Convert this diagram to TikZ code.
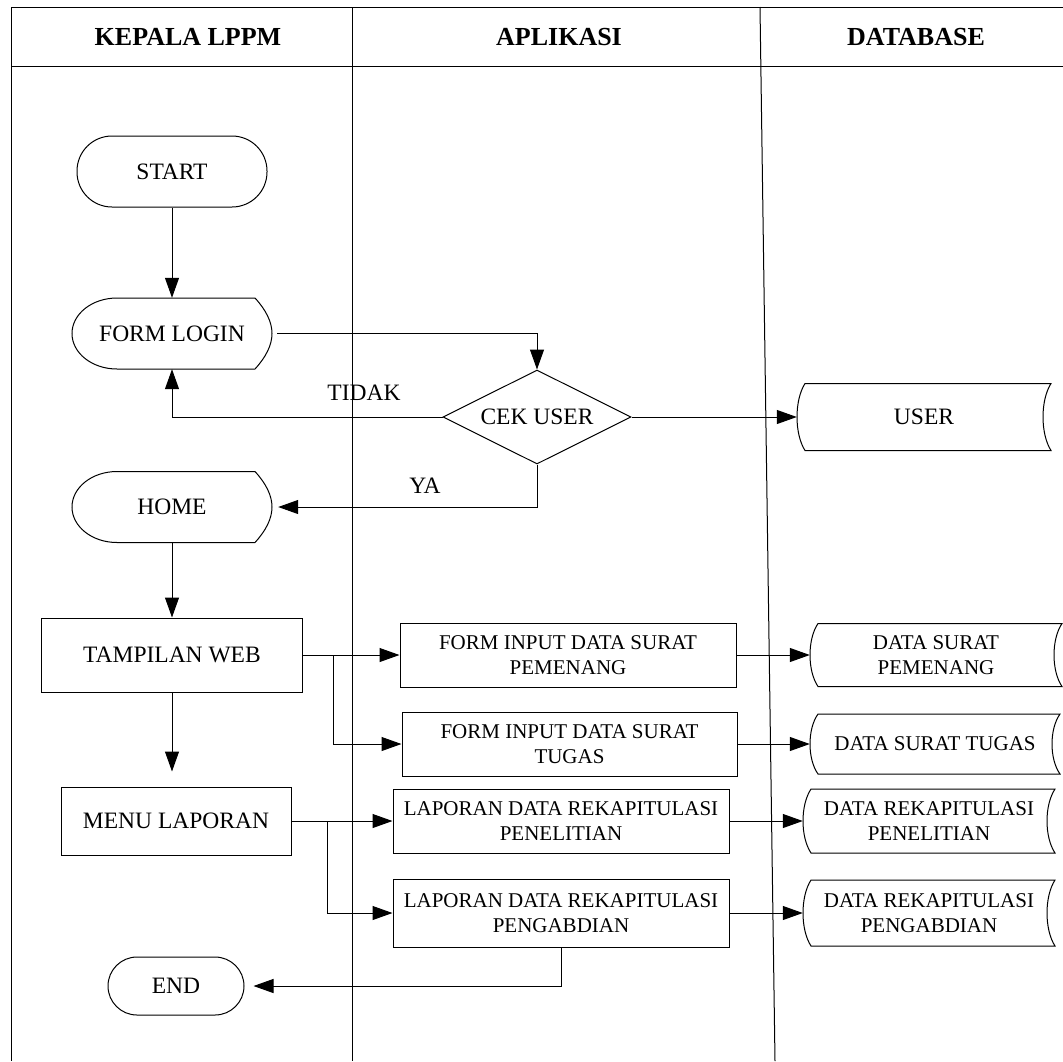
\documentclass[tikz,border=0pt]{standalone}
\usepackage{fontspec}
\setmainfont{Liberation Serif}
\usetikzlibrary{arrows.meta,shapes.geometric,calc}
\tikzset{
  ln/.style={line width=1pt, draw=black},
  arr/.style={line width=1pt, draw=black, -{Triangle[length=20pt,width=14pt]}},
  big/.style={font=\fontsize{23.5}{28}\selectfont, align=center},
  small/.style={font=\fontsize{21}{25}\selectfont, align=center},
  hdr/.style={font=\fontsize{26}{30}\selectfont\bfseries},
  procbox/.style={ln, rectangle, inner sep=0pt},
  lbl/.style={font=\fontsize{23.5}{28}\selectfont, inner sep=0pt}
}
% stored-data symbol: name, cx, cy, width, height, text
\newcommand\storenode[6]{%
  \node[small, inner sep=0pt, minimum width=#4pt, minimum height=#5pt] (#1) at (#2,#3) {#6};
  \draw[ln, shift={(#1.center)}]
    ({-#4/2+8},{-#5/2}) .. controls ({-#4/2-2.67},{-#5/2+#5/4}) and ({-#4/2-2.67},{#5/2-#5/4}) .. ({-#4/2+8},{#5/2})
    -- ({#4/2},{#5/2})
    .. controls ({#4/2-10.67},{#5/2-#5/4}) and ({#4/2-10.67},{-#5/2+#5/4}) .. ({#4/2},{-#5/2})
    -- cycle;
}
% display symbol: name, cx, cy, text
\newcommand\dispnode[4]{%
  \node[big, inner sep=0pt, minimum width=200pt, minimum height=71pt] (#1) at (#2,#3) {#4};
  \draw[ln, shift={(#1.center)}]
    (-55,-35.5) .. controls (-79.9,-35.5) and (-100,-19.6) .. (-100,0)
    .. controls (-100,19.6) and (-79.9,35.5) .. (-55,35.5)
    -- (83,35.5) .. controls (94,23.5) and (100,11.5) .. (100,0)
    .. controls (100,-11.5) and (94,-23.5) .. (83,-35.5) -- cycle;
}
\begin{document}
\begin{tikzpicture}[x=1pt,y=-1pt]
\useasboundingbox (0,0) rectangle (1063,1061);

% swimlane frame
\coordinate (tl) at (11,7);
\coordinate (tr) at (1063,7);
\coordinate (hl) at (11,66);
\coordinate (hr) at (1063,66);
\coordinate (bl) at (11,1061);
\coordinate (s1t) at (352,7);
\coordinate (s1b) at (352,1061);
\coordinate (s2t) at (760,7);
\coordinate (s2b) at (775,1061);
\draw[ln] (tl) -- (tr);
\draw[ln] (hl) -- (hr);
\draw[ln] (tl) -- (bl);
\draw[ln] (s1t) -- (s1b);
\draw[ln] (s2t) -- (s2b);

\node[hdr] (h1) at (188,37) {KEPALA LPPM};
\node[hdr] (h2) at (559,37) {APLIKASI};
\node[hdr] (h3) at (916,37) {DATABASE};

% KEPALA LPPM lane
\node[ln, big, rounded corners=35pt, minimum width=190pt, minimum height=71pt, inner sep=0pt] (start) at (172,171.5) {START};
\dispnode{formlogin}{172}{333.5}{FORM LOGIN}
\dispnode{home}{172}{507}{HOME}
\node[procbox, big, minimum width=261pt, minimum height=74pt] (tampil) at (172,655) {TAMPILAN WEB};
\node[procbox, big, minimum width=230pt, minimum height=68pt] (menu) at (176,821) {MENU LAPORAN};
\node[ln, big, rounded corners=29pt, minimum width=136pt, minimum height=58pt, inner sep=0pt] (end) at (176,986) {END};

% APLIKASI lane
\node[ln, diamond, aspect=2, minimum width=188pt, minimum height=94pt, inner sep=0pt, big] (cek) at (537,417) {CEK USER};
\node[procbox, small, minimum width=336pt, minimum height=64pt] (fpem) at (568,655) {FORM INPUT DATA SURAT\\PEMENANG};
\node[procbox, small, minimum width=335pt, minimum height=64pt] (ftug) at (569.5,744) {FORM INPUT DATA SURAT\\TUGAS};
\node[procbox, small, minimum width=336pt, minimum height=64pt] (lpen) at (561,821) {LAPORAN DATA REKAPITULASI\\PENELITIAN};
\node[procbox, small, minimum width=336pt, minimum height=68pt] (lpeng) at (561,913) {LAPORAN DATA REKAPITULASI\\PENGABDIAN};

% DATABASE lane
\storenode{user}{924}{417}{254}{67}{\fontsize{23.5}{28}\selectfont USER}
\storenode{dpem}{936}{655}{252}{63}{DATA SURAT\\PEMENANG}
\storenode{dtug}{935}{744}{250}{60}{DATA SURAT TUGAS}
\storenode{dpen}{929}{821}{252}{64}{DATA REKAPITULASI\\PENELITIAN}
\storenode{dpeng}{929}{913}{252}{66}{DATA REKAPITULASI\\PENGABDIAN}

% connectors
\draw[arr] (start.south) -- (formlogin.north);
\draw[arr, shorten <=5pt] (formlogin.east) -| (cek.north);
\draw[arr] (cek.west) -| (formlogin.south);
\draw[arr, shorten >=6pt] (cek.south) |- (home.east);
\draw[arr] (cek.east) -- (user.west);
\draw[arr] (home.south) -- (tampil.north);

\coordinate (br1) at (333,655);
\draw[arr] (tampil.east) -- (fpem.west);
\draw[arr] (br1) |- (ftug.west);
\draw[arr, shorten >=15pt] (tampil.south) -- (tampil.south |- menu.north);

\coordinate (br2) at (327,821);
\draw[arr] (menu.east) -- (lpen.west);
\draw[arr] (br2) |- (lpeng.west);
\draw[arr, shorten >=9pt] (lpeng.south) |- (end.east);

\draw[arr] (fpem.east) -- (dpem.west);
\draw[arr] (ftug.east) -- (dtug.west);
\draw[arr] (lpen.east) -- (dpen.west);
\draw[arr] (lpeng.east) -- (dpeng.west);

\node[lbl] (tidak) at (364,393) {TIDAK};
\node[lbl] (ya) at (425,486) {YA};
\end{tikzpicture}
\end{document}
